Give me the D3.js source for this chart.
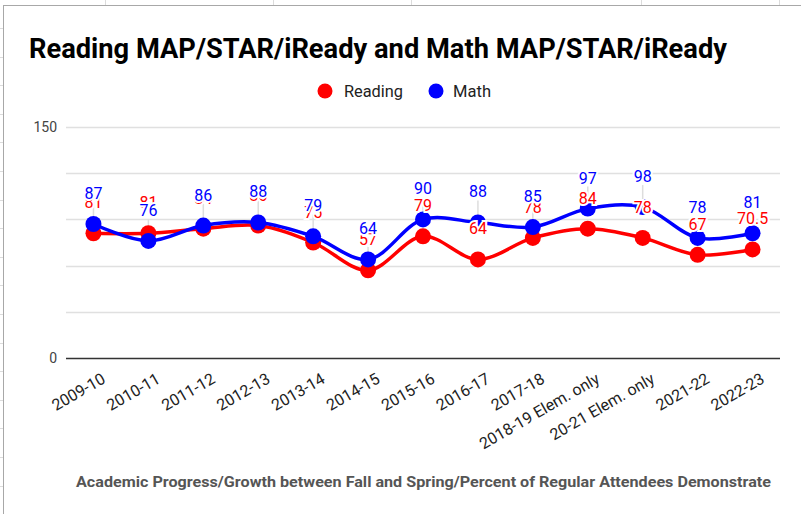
<!DOCTYPE html>
<html>
<head>
<meta charset="utf-8">
<script src="https://cdn.jsdelivr.net/npm/d3@7"></script>
<style>
  body { margin: 0; background: #fff; }
  svg { display: block; font-family: Roboto, "Noto Sans", sans-serif; }
</style>
</head>
<body>
<svg id="chart" width="801" height="514"></svg>
<script>
// categories and values
const years = ["2009-10", "2010-11", "2011-12", "2012-13", "2013-14", "2014-15", "2015-16",
  "2016-17", "2017-18", "2018-19 Elem. only", "20-21 Elem. only", "2021-22", "2022-23"];
const reading = [81, 81, 84, 86, 75, 57, 79, 64, 78, 84, 78, 67, 70.5];
const math = [87, 76, 86, 88, 79, 64, 90, 88, 85, 97, 98, 78, 81];
const yTicks = [0, 30, 60, 90, 120, 150];
const yLabels = [0, 150];

const svg = d3.select("#chart");
const W = +svg.attr("width"), H = +svg.attr("height");

// spreadsheet cells behind the chart
const sheet = svg.append("g").attr("stroke", "#dcdcdc").attr("stroke-width", 1);
[105, 273, 411, 641, 779].forEach(x => sheet.append("line").attr("x1", x + .5).attr("x2", x + .5).attr("y1", 0).attr("y2", 5));
d3.range(28, H, 28.6).forEach(y => sheet.append("line").attr("x1", 0).attr("x2", 3).attr("y1", Math.round(y) + .5).attr("y2", Math.round(y) + .5));

// chart frame
svg.append("rect").attr("x", 3.5).attr("y", 5.5).attr("width", W).attr("height", H)
  .attr("fill", "#fff").attr("stroke", "#a8a8a8");

const m = { left: 66, right: 780, top: 127, bottom: 358 };

const x = d3.scalePoint().domain(years).range([m.left, m.right]).padding(0.5);
const y = d3.scaleLinear().domain([0, 150]).range([m.bottom, m.top]);

// title
svg.append("text").attr("x", 29).attr("y", 58)
  .attr("font-size", 27).attr("font-weight", "bold").attr("fill", "#000")
  .attr("textLength", 698).attr("lengthAdjust", "spacingAndGlyphs")
  .text("Reading MAP/STAR/iReady and Math MAP/STAR/iReady");

// legend
const legend = [
  { name: "Reading", color: "#ff0000", cx: 325, tx: 344, tw: 59 },
  { name: "Math", color: "#0000ff", cx: 436, tx: 453, tw: 38 }
];
const lg = svg.append("g").selectAll("g").data(legend).join("g");
lg.append("circle").attr("cx", d => d.cx).attr("cy", 91).attr("r", 7.5).attr("fill", d => d.color);
lg.append("text").attr("x", d => d.tx).attr("y", 97).attr("font-size", 16).attr("fill", "#222")
  .attr("textLength", d => d.tw).attr("lengthAdjust", "spacingAndGlyphs").text(d => d.name);

// grid
svg.append("g").selectAll("line").data(yTicks.filter(t => t > 0)).join("line")
  .attr("x1", m.left).attr("x2", m.right)
  .attr("y1", d => Math.round(y(d)) + .5).attr("y2", d => Math.round(y(d)) + .5)
  .attr("stroke", "#e0e0e0").attr("stroke-width", 1.5);

// y labels
svg.append("g").selectAll("text").data(yLabels).join("text")
  .attr("x", 57).attr("y", d => y(d) + 5).attr("text-anchor", "end")
  .attr("font-size", 14).attr("fill", "#444").text(d => d);

// leader lines from the upper labels
svg.append("g").selectAll("line").data(years).join("line")
  .attr("x1", d => x(d)).attr("x2", d => x(d))
  .attr("y1", (d, i) => y(math[i]) - 22).attr("y2", (d, i) => y(math[i]))
  .attr("stroke", "#dddddd").attr("stroke-width", 1.5);

// baseline
svg.append("line").attr("x1", m.left).attr("x2", m.right)
  .attr("y1", y(0) + .5).attr("y2", y(0) + .5).attr("stroke", "#333").attr("stroke-width", 1.5);

// x tick labels
svg.append("g").selectAll("text").data(years).join("text")
  .attr("transform", d => `translate(${x(d) + 13},${y(0) + 24}) rotate(-30)`)
  .attr("text-anchor", "end").attr("font-size", 16).attr("fill", "#222").text(d => d);

// axis title
svg.append("text").attr("x", 76).attr("y", 487)
  .attr("font-size", 15).attr("font-weight", "bold").attr("fill", "#555")
  .attr("textLength", 695).attr("lengthAdjust", "spacingAndGlyphs")
  .text("Academic Progress/Growth between Fall and Spring/Percent of Regular Attendees Demonstrate");

// series
const series = [
  { name: "Reading", values: reading, color: "#ff0000" },
  { name: "Math", values: math, color: "#0000ff" }
];
const line = d3.line().x((d, i) => x(years[i])).y(d => y(d)).curve(d3.curveCatmullRom.alpha(0.5));

series.forEach(s => {
  svg.append("path").datum(s.values).attr("d", line)
    .attr("fill", "none").attr("stroke", s.color).attr("stroke-width", 3.5);
  svg.append("g").selectAll("circle").data(s.values).join("circle")
    .attr("cx", (d, i) => x(years[i])).attr("cy", d => y(d)).attr("r", 8).attr("fill", s.color);
});

// data labels
series.forEach(s => {
  svg.append("g").selectAll("text").data(s.values).join("text")
    .attr("x", (d, i) => x(years[i])).attr("y", d => y(d) - 25)
    .attr("text-anchor", "middle").attr("font-size", 16).attr("fill", s.color)
    .attr("stroke", "#fff").attr("stroke-width", 4).attr("paint-order", "stroke")
    .text(d => d);
});
</script>
</body>
</html>
